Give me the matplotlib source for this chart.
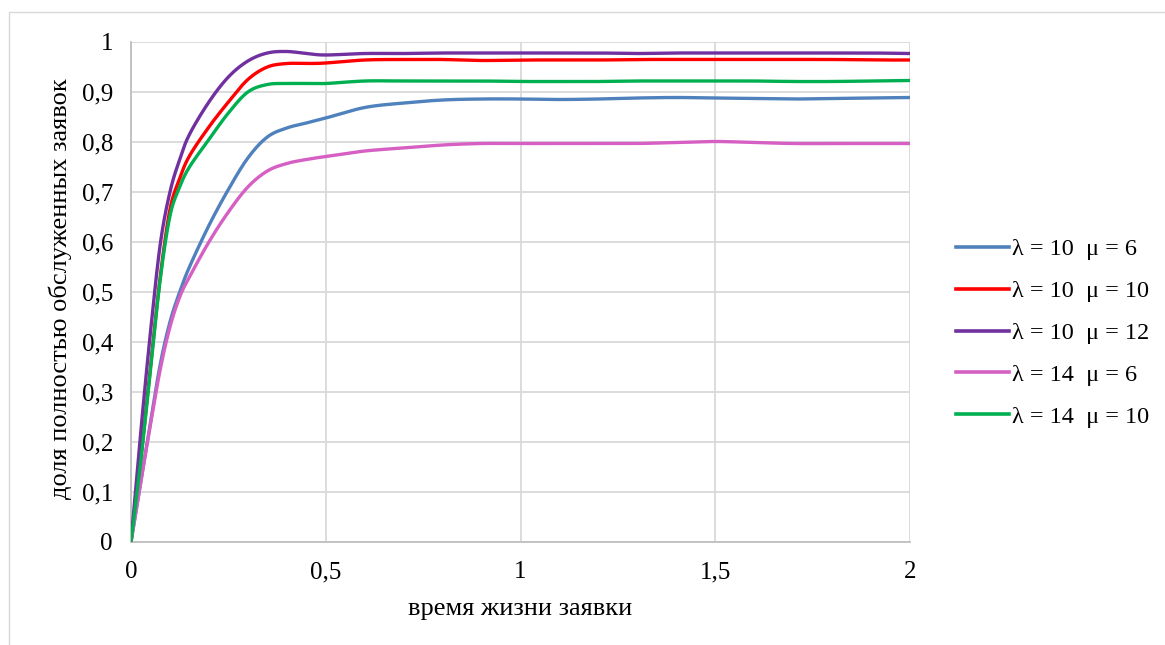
import numpy as np
import matplotlib
matplotlib.use("Agg")
import matplotlib.pyplot as plt
from matplotlib.patches import Rectangle
from matplotlib.lines import Line2D

plt.rcParams['font.family'] = ['Liberation Serif', 'DejaVu Serif']

# Lifetime grid (x) and share of fully served requests for each (lambda, mu)
t = [0, 0.025, 0.05, 0.075, 0.1, 0.125, 0.15, 0.2, 0.25, 0.3, 0.35, 0.4, 0.45, 0.5,
     0.6, 0.7, 0.8, 0.9, 1.0, 1.1, 1.2, 1.3, 1.4, 1.5, 1.6, 1.7, 1.8, 1.9, 2.0]

lam10_mu6 = [0, 0.12, 0.24, 0.355, 0.44, 0.50, 0.55, 0.633, 0.705, 0.768, 0.81, 0.828,
             0.838, 0.848, 0.869, 0.878, 0.884, 0.886, 0.886,
             0.885, 0.886, 0.888, 0.889, 0.888, 0.887, 0.886, 0.887, 0.888, 0.889]
lam10_mu10 = [0, 0.165, 0.35, 0.53, 0.665, 0.727, 0.772, 0.83, 0.88, 0.925, 0.95, 0.957,
              0.957, 0.958, 0.964, 0.965, 0.965, 0.963, 0.964,
              0.964, 0.964, 0.965, 0.965, 0.965, 0.965, 0.965, 0.965, 0.964, 0.964]
lam10_mu12 = [0, 0.22, 0.42, 0.595, 0.70, 0.765, 0.815, 0.88, 0.93, 0.962, 0.978, 0.981,
              0.977, 0.974, 0.977, 0.977, 0.978, 0.978, 0.978,
              0.978, 0.978, 0.977, 0.978, 0.978, 0.978, 0.978, 0.978, 0.978, 0.977]
lam14_mu6 = [0, 0.12, 0.235, 0.345, 0.43, 0.49, 0.53, 0.60, 0.66, 0.71, 0.742, 0.757,
             0.765, 0.771, 0.782, 0.788, 0.794, 0.797, 0.797,
             0.797, 0.797, 0.797, 0.799, 0.801, 0.799, 0.797, 0.797, 0.797, 0.797]
lam14_mu10 = [0, 0.16, 0.345, 0.525, 0.652, 0.71, 0.75, 0.805, 0.858, 0.9, 0.915, 0.917,
              0.917, 0.917, 0.922, 0.922, 0.922, 0.922, 0.921,
              0.921, 0.921, 0.922, 0.922, 0.922, 0.922, 0.921, 0.921, 0.922, 0.923]

labels = ["λ = 10  μ = 6", "λ = 10  μ = 10", "λ = 10  μ = 12",
          "λ = 14  μ = 6", "λ = 14  μ = 10"]
colors = ["#4F81BD", "#FF0000", "#7030A0", "#D65FC4", "#00B050"]
series = [lam10_mu6, lam10_mu10, lam10_mu12, lam14_mu6, lam14_mu10]


def smooth(x, y, n=30):
    """Spreadsheet-style smoothed line: cubic Bezier segments with
    Catmull-Rom control points (1/6 of neighbour differences)."""
    x = np.asarray(x, float)
    y = np.asarray(y, float)
    px = np.concatenate([[x[0]], x, [x[-1]]])
    py = np.concatenate([[y[0]], y, [y[-1]]])
    xs, ys = [], []
    s = np.linspace(0, 1, n)
    for i in range(1, len(px) - 2):
        p0 = np.array([px[i], py[i]])
        p3 = np.array([px[i + 1], py[i + 1]])
        c1 = p0 + (np.array([px[i + 1], py[i + 1]]) - np.array([px[i - 1], py[i - 1]])) / 6
        c2 = p3 - (np.array([px[i + 2], py[i + 2]]) - np.array([px[i], py[i]])) / 6
        b = ((1 - s) ** 3)[:, None] * p0 + (3 * (1 - s) ** 2 * s)[:, None] * c1 \
            + (3 * (1 - s) * s ** 2)[:, None] * c2 + (s ** 3)[:, None] * p3
        xs.append(b[:, 0])
        ys.append(b[:, 1])
    return np.concatenate(xs), np.concatenate(ys)


fig = plt.figure(figsize=(11.65, 6.45), dpi=100)
fig.patch.set_facecolor("white")

# outer chart frame
fig.patches.append(Rectangle((9 / 1165, -0.1), 1.2, 1 - 12 / 645 + 0.1,
                             transform=fig.transFigure, fill=False,
                             edgecolor="#D9D9D9", linewidth=1.0))

ax = fig.add_axes([131 / 1165, 1 - 542 / 645, (910 - 131) / 1165, (542 - 42) / 645])

for yv, c, lab in zip(series, colors, labels):
    sx, sy = smooth(t, yv)
    ax.plot(sx, sy, color=c, linewidth=2.4, label=lab, solid_capstyle="round", zorder=3)

ax.set_xlim(0, 2)
ax.set_ylim(0, 1)
ax.set_xticks([0, 0.5, 1, 1.5, 2])
ax.set_xticklabels(["0", "0,5", "1", "1,5", "2"])
ax.set_yticks(np.arange(0, 1.01, 0.1))
ax.set_yticklabels(["0", "0,1", "0,2", "0,3", "0,4", "0,5", "0,6", "0,7", "0,8", "0,9", "1"])

ax.grid(True, color="#D9D9D9", linewidth=1.3, zorder=0)
ax.set_axisbelow(True)
for side in ["top", "right"]:
    ax.spines[side].set_visible(False)
for side in ["left", "bottom"]:
    ax.spines[side].set_color("#BFBFBF")
    ax.spines[side].set_linewidth(1.3)
ax.tick_params(length=0, labelsize=18, colors="black")
ax.tick_params(axis="y", pad=13)
ax.tick_params(axis="x", pad=14)

ax.set_xlabel("время жизни заявки", fontsize=19)
ax.set_ylabel("доля полностью обслуженных заявок", fontsize=19)
ax.xaxis.set_label_coords(0.5, -0.112)
ax.xaxis.label.set_va("top")
ax.yaxis.set_label_coords(-0.076, 0.506)

handles = [Line2D([0], [0], color=c, linewidth=2.6) for c in colors]
fig.legend(handles, labels, loc="center left", bbox_to_anchor=(956 / 1165, 1 - 333 / 645),
           frameon=False, fontsize=17.5, handlelength=2.2, handletextpad=0.12,
           labelspacing=0.82, borderpad=0, borderaxespad=0)

fig.savefig("out.png", dpi=100, facecolor="white")
